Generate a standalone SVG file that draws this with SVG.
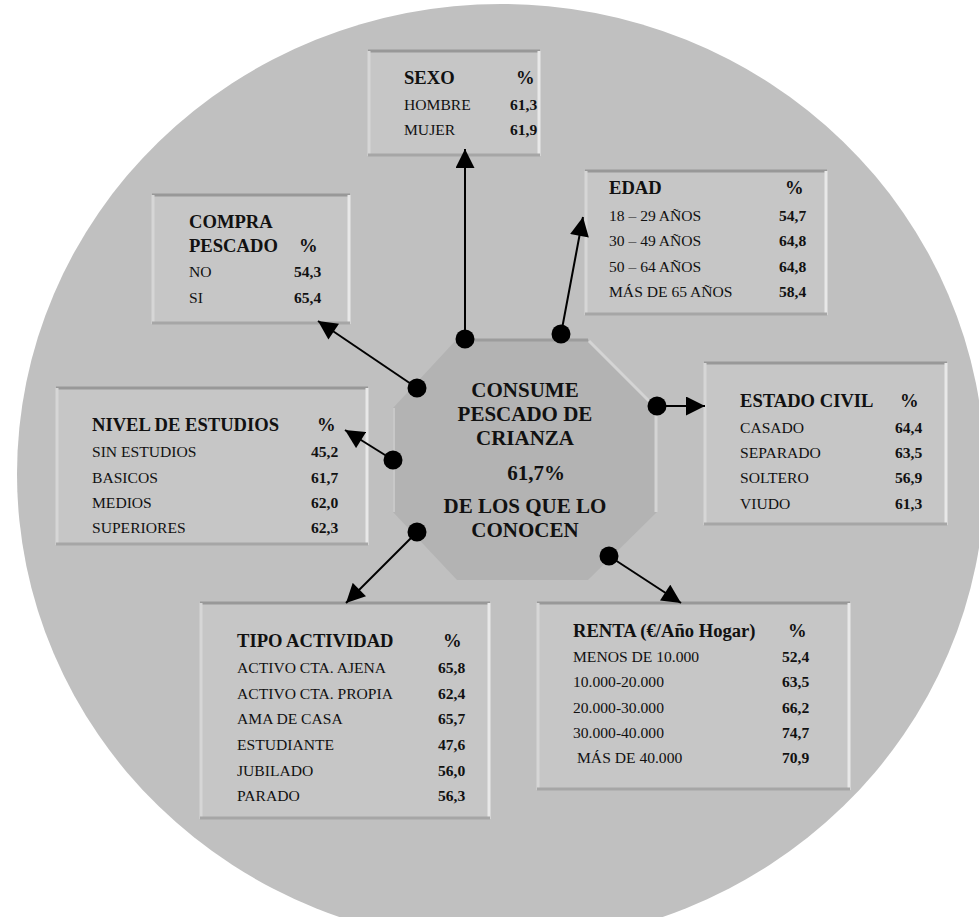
<svg xmlns="http://www.w3.org/2000/svg" width="979" height="917" viewBox="0 0 979 917">
<style>
text{font-family:"Liberation Serif","Times New Roman",serif;fill:#111}
.h{font-weight:bold;font-size:18.6px}
.b{font-size:15.6px}
.v{font-weight:bold;font-size:15.6px}
.c{font-weight:bold;font-size:21px;text-anchor:middle}
.box{fill:#c6c6c6}
.et{stroke:#989898;stroke-width:3}
.el{stroke:#d6d6d6;stroke-width:3}
.er{stroke:#e8e8e8;stroke-width:3}
.eb{stroke:#a6a6a6;stroke-width:3}
.ln{stroke:#000;stroke-width:2;fill:none}
.dot{fill:#000}
</style>
<defs>
<marker id="ah" viewBox="0 0 20 20" refX="20" refY="10" markerWidth="20" markerHeight="19" markerUnits="userSpaceOnUse" orient="auto">
<path d="M0,0 L20,10 L0,20 z" fill="#000"/>
</marker>
</defs>
<rect width="979" height="917" fill="#fff"/>
<ellipse cx="501" cy="474" rx="484" ry="470" fill="#c0c0c0"/>

<g id="centro">
<polygon points="457,339 588,339 657,408 657,512 588,580 457,580 393,512 393,408" fill="#b3b3b3"/>
<polyline points="457,340 588,340" class="ln" style="stroke:#9c9c9c;stroke-width:3"/>
<polyline points="589,341 656,408 656,512" class="ln" style="stroke:#d4d4d4;stroke-width:3"/>
<polyline points="394,408 394,512" class="ln" style="stroke:#c8c8c8;stroke-width:2"/>
<text class="c" x="525" y="397">CONSUME</text>
<text class="c" x="525" y="421">PESCADO DE</text>
<text class="c" x="525" y="445">CRIANZA</text>
<text class="c" x="536" y="480">61,7%</text>
<text class="c" x="525" y="513">DE LOS QUE LO</text>
<text class="c" x="525" y="537">CONOCEN</text>
</g>

<g id="sexo">
<rect class="box" x="368" y="50" width="172" height="106"/>
<line class="et" x1="368" y1="51" x2="540" y2="51"/>
<line class="el" x1="369" y1="51" x2="369" y2="156"/>
<line class="er" x1="539" y1="51" x2="539" y2="156"/>
<line class="eb" x1="368" y1="155" x2="540" y2="155"/>
<text class="h" x="404" y="84">SEXO</text>
<text class="h" x="516" y="84">%</text>
<text class="b" x="404" y="110">HOMBRE</text>
<text class="v" x="510" y="110">61,3</text>
<text class="b" x="404" y="135">MUJER</text>
<text class="v" x="510" y="135">61,9</text>
</g>

<g id="edad">
<rect class="box" x="585" y="170" width="242" height="145"/>
<line class="et" x1="585" y1="171" x2="827" y2="171"/>
<line class="el" x1="586" y1="171" x2="586" y2="315"/>
<line class="er" x1="826" y1="171" x2="826" y2="315"/>
<line class="eb" x1="585" y1="314" x2="827" y2="314"/>
<text class="h" x="609" y="194">EDAD</text>
<text class="h" x="785" y="194">%</text>
<text class="b" x="609" y="221">18 – 29 AÑOS</text>
<text class="v" x="779" y="221">54,7</text>
<text class="b" x="609" y="246">30 – 49 AÑOS</text>
<text class="v" x="779" y="246">64,8</text>
<text class="b" x="609" y="272">50 – 64 AÑOS</text>
<text class="v" x="779" y="272">64,8</text>
<text class="b" x="609" y="297">MÁS DE 65 AÑOS</text>
<text class="v" x="779" y="297">58,4</text>
</g>

<g id="compra">
<rect class="box" x="152" y="194" width="198" height="130"/>
<line class="et" x1="152" y1="195" x2="350" y2="195"/>
<line class="el" x1="153" y1="195" x2="153" y2="324"/>
<line class="er" x1="349" y1="195" x2="349" y2="324"/>
<line class="eb" x1="152" y1="323" x2="350" y2="323"/>
<text class="h" x="189" y="228">COMPRA</text>
<text class="h" x="189" y="252">PESCADO</text>
<text class="h" x="299" y="252">%</text>
<text class="b" x="189" y="277">NO</text>
<text class="v" x="294" y="277">54,3</text>
<text class="b" x="189" y="303">SI</text>
<text class="v" x="294" y="303">65,4</text>
</g>

<g id="estado-civil">
<rect class="box" x="704" y="362" width="243" height="163"/>
<line class="et" x1="704" y1="363" x2="947" y2="363"/>
<line class="el" x1="705" y1="363" x2="705" y2="525"/>
<line class="er" x1="946" y1="363" x2="946" y2="525"/>
<line class="eb" x1="704" y1="524" x2="947" y2="524"/>
<text class="h" x="740" y="407">ESTADO CIVIL</text>
<text class="h" x="900" y="407">%</text>
<text class="b" x="740" y="433">CASADO</text>
<text class="v" x="895" y="433">64,4</text>
<text class="b" x="740" y="458">SEPARADO</text>
<text class="v" x="895" y="458">63,5</text>
<text class="b" x="740" y="483">SOLTERO</text>
<text class="v" x="895" y="483">56,9</text>
<text class="b" x="740" y="509">VIUDO</text>
<text class="v" x="895" y="509">61,3</text>
</g>

<g id="nivel-estudios">
<rect class="box" x="56" y="387" width="312" height="158"/>
<line class="et" x1="56" y1="388" x2="368" y2="388"/>
<line class="el" x1="57" y1="388" x2="57" y2="545"/>
<line class="er" x1="367" y1="388" x2="367" y2="545"/>
<line class="eb" x1="56" y1="544" x2="368" y2="544"/>
<text class="h" x="92" y="431">NIVEL DE ESTUDIOS</text>
<text class="h" x="317" y="431">%</text>
<text class="b" x="92" y="457">SIN ESTUDIOS</text>
<text class="v" x="311" y="457">45,2</text>
<text class="b" x="92" y="483">BASICOS</text>
<text class="v" x="311" y="483">61,7</text>
<text class="b" x="92" y="508">MEDIOS</text>
<text class="v" x="311" y="508">62,0</text>
<text class="b" x="92" y="533">SUPERIORES</text>
<text class="v" x="311" y="533">62,3</text>
</g>

<g id="tipo-actividad">
<rect class="box" x="200" y="602" width="290" height="217"/>
<line class="et" x1="200" y1="603" x2="490" y2="603"/>
<line class="el" x1="201" y1="603" x2="201" y2="819"/>
<line class="er" x1="489" y1="603" x2="489" y2="819"/>
<line class="eb" x1="200" y1="818" x2="490" y2="818"/>
<text class="h" x="237" y="647">TIPO ACTIVIDAD</text>
<text class="h" x="443" y="647">%</text>
<text class="b" x="237" y="673">ACTIVO CTA. AJENA</text>
<text class="v" x="438" y="673">65,8</text>
<text class="b" x="237" y="699">ACTIVO CTA. PROPIA</text>
<text class="v" x="438" y="699">62,4</text>
<text class="b" x="237" y="724">AMA DE CASA</text>
<text class="v" x="438" y="724">65,7</text>
<text class="b" x="237" y="750">ESTUDIANTE</text>
<text class="v" x="438" y="750">47,6</text>
<text class="b" x="237" y="776">JUBILADO</text>
<text class="v" x="438" y="776">56,0</text>
<text class="b" x="237" y="801">PARADO</text>
<text class="v" x="438" y="801">56,3</text>
</g>

<g id="renta">
<rect class="box" x="537" y="602" width="313" height="188"/>
<line class="et" x1="537" y1="603" x2="850" y2="603"/>
<line class="el" x1="538" y1="603" x2="538" y2="790"/>
<line class="er" x1="849" y1="603" x2="849" y2="790"/>
<line class="eb" x1="537" y1="789" x2="850" y2="789"/>
<text class="h" x="573" y="637">RENTA (€/Año Hogar)</text>
<text class="h" x="788" y="637">%</text>
<text class="b" x="573" y="662">MENOS DE 10.000</text>
<text class="v" x="782" y="662">52,4</text>
<text class="b" x="573" y="687">10.000-20.000</text>
<text class="v" x="782" y="687">63,5</text>
<text class="b" x="573" y="713">20.000-30.000</text>
<text class="v" x="782" y="713">66,2</text>
<text class="b" x="573" y="738">30.000-40.000</text>
<text class="v" x="782" y="738">74,7</text>
<text class="b" x="577" y="763">MÁS DE 40.000</text>
<text class="v" x="782" y="763">70,9</text>
</g>

<g id="conectores">
<line class="ln" x1="465" y1="339" x2="465" y2="149" marker-end="url(#ah)"/>
<line class="ln" x1="561" y1="334" x2="583" y2="217" marker-end="url(#ah)"/>
<line class="ln" x1="417" y1="388" x2="318" y2="321" marker-end="url(#ah)"/>
<line class="ln" x1="393" y1="460" x2="345" y2="430" marker-end="url(#ah)"/>
<line class="ln" x1="657" y1="406" x2="705" y2="406" marker-end="url(#ah)"/>
<line class="ln" x1="417" y1="532" x2="346" y2="603" marker-end="url(#ah)"/>
<line class="ln" x1="609" y1="556" x2="681" y2="603" marker-end="url(#ah)"/>
<circle class="dot" cx="465" cy="339" r="9.5"/>
<circle class="dot" cx="561" cy="334" r="9.5"/>
<circle class="dot" cx="417" cy="388" r="9.5"/>
<circle class="dot" cx="393" cy="460" r="9.5"/>
<circle class="dot" cx="657" cy="406" r="9.5"/>
<circle class="dot" cx="417" cy="532" r="9.5"/>
<circle class="dot" cx="609" cy="556" r="9.5"/>
</g>
</svg>
